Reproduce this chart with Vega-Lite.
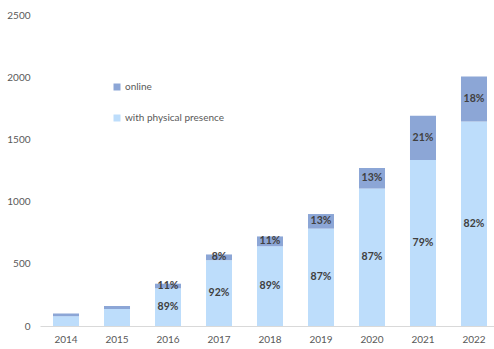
{
  "$schema": "https://vega.github.io/schema/vega-lite/v6.json",
  "autosize": "none",
  "width": 460,
  "height": 311,
  "padding": {"left": 40, "top": 15, "right": 0, "bottom": 23},
  "background": "white",
  "config": {
    "view": {"stroke": null},
    "font": "Lato"
  },
  "data": {
    "values": [
      {"year": "2014", "category": "with physical presence", "value": 78, "label": ""},
      {"year": "2014", "category": "online", "value": 22, "label": ""},
      {"year": "2015", "category": "with physical presence", "value": 137, "label": ""},
      {"year": "2015", "category": "online", "value": 23, "label": ""},
      {"year": "2016", "category": "with physical presence", "value": 303, "label": "89%"},
      {"year": "2016", "category": "online", "value": 37, "label": "11%"},
      {"year": "2017", "category": "with physical presence", "value": 529, "label": "92%"},
      {"year": "2017", "category": "online", "value": 46, "label": "8%"},
      {"year": "2018", "category": "with physical presence", "value": 641, "label": "89%"},
      {"year": "2018", "category": "online", "value": 79, "label": "11%"},
      {"year": "2019", "category": "with physical presence", "value": 783, "label": "87%"},
      {"year": "2019", "category": "online", "value": 117, "label": "13%"},
      {"year": "2020", "category": "with physical presence", "value": 1105, "label": "87%"},
      {"year": "2020", "category": "online", "value": 165, "label": "13%"},
      {"year": "2021", "category": "with physical presence", "value": 1335, "label": "79%"},
      {"year": "2021", "category": "online", "value": 355, "label": "21%"},
      {"year": "2022", "category": "with physical presence", "value": 1644, "label": "82%"},
      {"year": "2022", "category": "online", "value": 361, "label": "18%"}
    ]
  },
  "encoding": {
    "x": {
      "field": "year",
      "type": "ordinal",
      "scale": {"paddingInner": 0.49, "paddingOuter": 0.255},
      "axis": {
        "title": null,
        "labelAngle": 0,
        "ticks": false,
        "domainColor": "#d9d9d9",
        "domainWidth": 1,
        "labelColor": "#595959",
        "labelFontSize": 10,
        "labelPadding": 8
      }
    }
  },
  "layer": [
    {
      "mark": {"type": "bar"},
      "encoding": {
        "y": {
          "field": "value",
          "type": "quantitative",
          "stack": "zero",
          "scale": {"domain": [0, 2500], "nice": false, "zero": true},
          "axis": {
            "title": null,
            "values": [0, 500, 1000, 1500, 2000, 2500],
            "format": "d",
            "grid": false,
            "domain": false,
            "ticks": false,
            "labelColor": "#595959",
            "labelFontSize": 10,
            "labelPadding": 10
          }
        },
        "color": {
          "field": "category",
          "type": "nominal",
          "scale": {"domain": ["online", "with physical presence"], "range": ["#8CA6D6", "#BDDDFB"]},
          "legend": {
            "title": null,
            "orient": "none",
            "legendX": 72,
            "legendY": 67,
            "symbolType": "square",
            "symbolSize": 49,
            "symbolStrokeWidth": 0,
            "labelFontSize": 10,
            "labelColor": "#595959",
            "labelOffset": 3,
            "rowPadding": 21
          }
        },
        "order": {"field": "category", "sort": "descending"}
      }
    },
    {
      "transform": [
        {"stack": "value", "groupby": ["year"], "as": ["v0", "v1"], "sort": [{"field": "category", "order": "descending"}]},
        {"calculate": "(datum.v0 + datum.v1) / 2", "as": "mid"},
        {"filter": "datum.label != ''"}
      ],
      "mark": {"type": "text", "fontSize": 10.5, "fontWeight": "bold", "color": "#404040", "baseline": "middle"},
      "encoding": {
        "y": {"field": "mid", "type": "quantitative", "scale": {"domain": [0, 2500], "nice": false, "zero": true}},
        "text": {"field": "label"}
      }
    }
  ]
}
